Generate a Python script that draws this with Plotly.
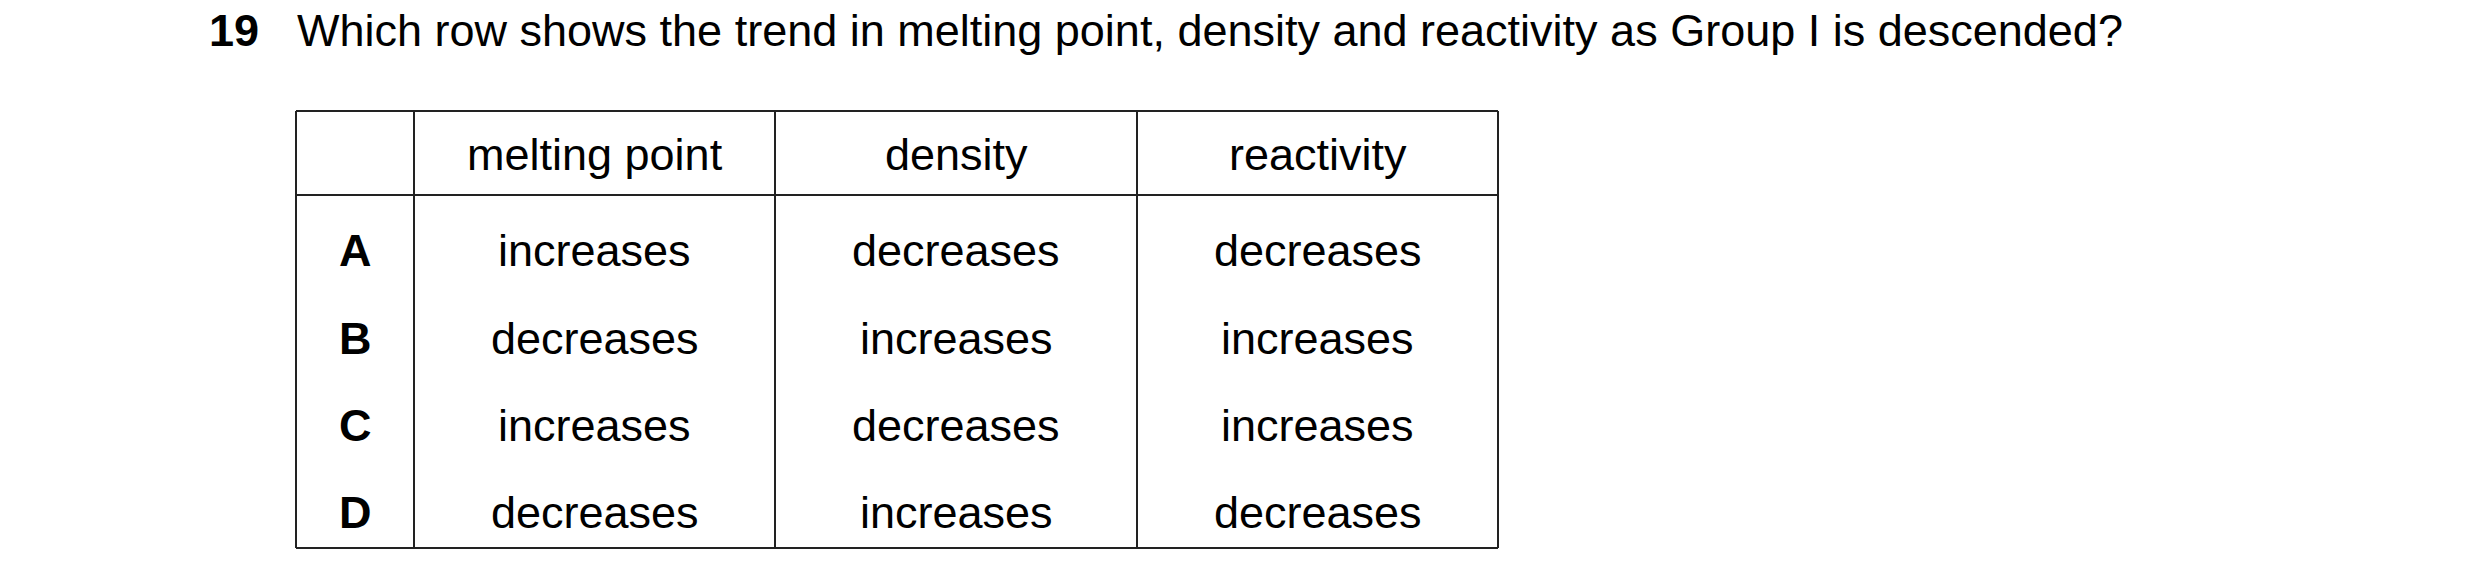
import plotly.graph_objects as go

question_no = "19"
question = "Which row shows the trend in melting point, density and reactivity as Group I is descended?"
columns = ["melting point", "density", "reactivity"]
row_labels = ["A", "B", "C", "D"]
melting_point = ["increases", "decreases", "increases", "decreases"]
density = ["decreases", "increases", "decreases", "increases"]
reactivity = ["decreases", "increases", "increases", "decreases"]

W, H = 2480, 587
col_edges = [288, 406, 767, 1129, 1490]
top, head_bot, bottom = 103, 187, 540
row_y = [242, 330, 417, 504]
font = "Liberation Sans, Arial, sans-serif"
fs = 45

fig = go.Figure()
# invisible trace so axes exist
fig.add_trace(go.Scatter(x=[0, W], y=[0, H], mode="markers", marker=dict(opacity=0), hoverinfo="skip", showlegend=False))

line = dict(color="#222", width=2)
for x in col_edges:
    fig.add_shape(type="line", x0=x, x1=x, y0=top, y1=bottom, line=line)
for y in [top, head_bot, bottom]:
    fig.add_shape(type="line", x0=col_edges[0], x1=col_edges[-1], y0=y, y1=y, line=line)

fig.add_annotation(x=199, y=22, text="<b>" + question_no + "</b>", showarrow=False, xanchor="left", font=dict(family=font, size=fs, color="black"))
fig.add_annotation(x=287, y=22, text=question, showarrow=False, xanchor="left", font=dict(family=font, size=fs, color="black"))

centers = [(col_edges[i] + col_edges[i + 1]) / 2 for i in range(len(col_edges) - 1)]
for c, name in zip(centers[1:], columns):
    fig.add_annotation(x=c, y=146, text=name, showarrow=False, font=dict(family=font, size=fs, color="black"))

for i, lab in enumerate(row_labels):
    fig.add_annotation(x=centers[0], y=row_y[i], text="<b>" + lab + "</b>", showarrow=False, font=dict(family=font, size=fs, color="black"))
    for c, vals in zip(centers[1:], [melting_point, density, reactivity]):
        fig.add_annotation(x=c, y=row_y[i], text=vals[i], showarrow=False, font=dict(family=font, size=fs, color="black"))

fig.update_xaxes(range=[0, W], visible=False)
fig.update_yaxes(range=[H, 0], visible=False)
fig.update_layout(width=W, height=H, margin=dict(l=0, r=0, t=0, b=0),
                  plot_bgcolor="white", paper_bgcolor="white")
fig.write_html("out.html")
